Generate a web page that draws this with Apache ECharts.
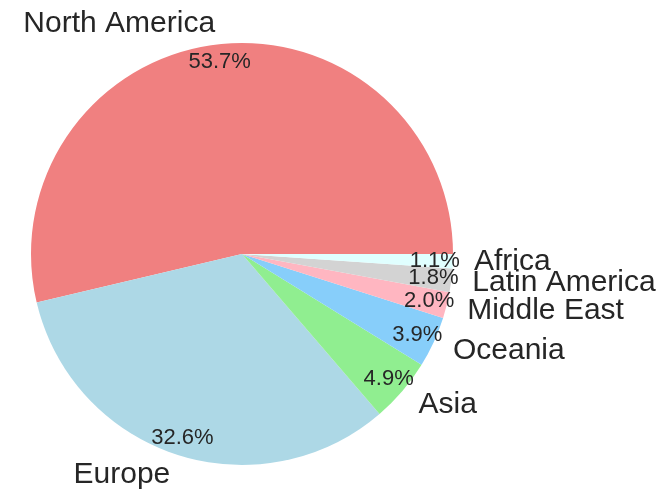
<!DOCTYPE html>
<html>
<head>
<meta charset="utf-8">
<script src="https://cdn.jsdelivr.net/npm/echarts@6/dist/echarts.min.js"></script>
<style>
  html, body { margin: 0; padding: 0; background: #fff; }
  #main { width: 666px; height: 498px; }
</style>
</head>
<body>
<div id="main"></div>
<script>
var regions = ['North America', 'Europe', 'Asia', 'Oceania', 'Middle East', 'Latin America', 'Africa'];
var shares = [53.7, 32.6, 4.9, 3.9, 2.0, 1.8, 1.1];
var colors = ['#F08080', '#ADD8E6', '#90EE90', '#87CEFA', '#FFB6C1', '#D3D3D3', '#E0FFFF'];

var R = 211;
var center = [242, 254];

var myChart = echarts.init(document.getElementById('main'));

var pieData = regions.map(function (name, i) {
    return { name: name, value: shares[i], itemStyle: { color: colors[i] } };
});

var option = {
    animation: false,
    series: [
        // 扇区 + 外部名称
        {
            type: 'pie',
            center: center,
            radius: [0, R],
            startAngle: 0,
            clockwise: false,
            avoidLabelOverlap: false,
            data: pieData,
            label: {
                show: true,
                position: 'outside',
                formatter: '{b}',
                fontFamily: 'Liberation Sans, Arial, sans-serif',
                fontSize: 30,
                color: '#262626',
                distanceToLabelLine: 0,
                bleedMargin: 0
            },
            labelLine: { show: false, length: R * 0.1, length2: 0 },
            labelLayout: { hideOverlap: false },
            emphasis: { disabled: true }
        },
        // 百分比，透明环，放在 0.9 半径处
        {
            type: 'pie',
            center: center,
            radius: [R * 0.8, R],
            startAngle: 0,
            clockwise: false,
            silent: true,
            data: regions.map(function (name, i) {
                return { name: name, value: shares[i] };
            }),
            itemStyle: { color: 'rgba(0,0,0,0)' },
            label: {
                show: true,
                position: 'inside',
                formatter: function (p) { return p.value.toFixed(1) + '%'; },
                fontFamily: 'Liberation Sans, Arial, sans-serif',
                fontSize: 22,
                color: '#262626'
            },
            labelLine: { show: false },
            labelLayout: { hideOverlap: false },
            emphasis: { disabled: true }
        }
    ]
};

myChart.setOption(option);
</script>
</body>
</html>
